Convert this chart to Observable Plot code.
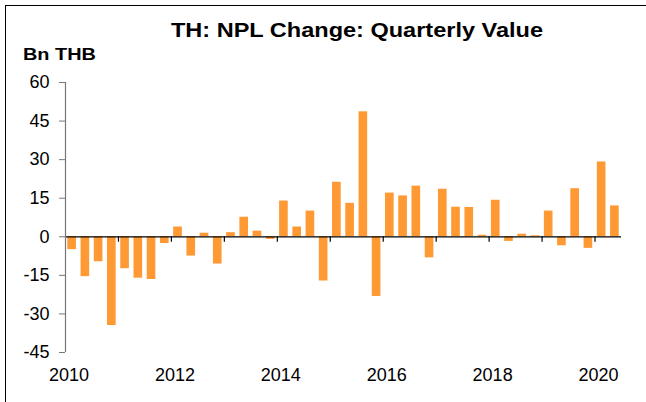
<!DOCTYPE html>
<html>
<head>
<meta charset="utf-8">
<script src="https://cdn.jsdelivr.net/npm/d3@7"></script>
<script src="https://cdn.jsdelivr.net/npm/@observablehq/plot@0.6"></script>
<style>
  html, body { margin: 0; padding: 0; background: #fff; }
  #wrap { position: relative; width: 646px; height: 402px; overflow: hidden; font-family: "Liberation Sans", Arial, sans-serif; }
  #border { position: absolute; left: 5px; top: 5px; right: -2px; bottom: -2px; border-left: 1.5px solid #000; border-top: 1.5px solid #000; }
  #title { position: absolute; left: 357px; top: 19px; font-size: 21px; font-weight: bold; line-height: 1; white-space: nowrap; transform: translateX(-50%) scaleX(1.12); color: #000; }
  #unit { position: absolute; left: 23px; top: 45.5px; font-size: 17px; font-weight: bold; line-height: 1; white-space: nowrap; transform-origin: left top; transform: scaleX(1.17); color: #000; }
  #chart { position: absolute; left: 0; top: 0; }
</style>
</head>
<body>
<div id="wrap">
  <div id="border"></div>
  <div id="chart"></div>
  <div id="title">TH: NPL Change: Quarterly Value</div>
  <div id="unit">Bn THB</div>
</div>
<script>
const quarters = [
  "2010Q1","2010Q2","2010Q3","2010Q4",
  "2011Q1","2011Q2","2011Q3","2011Q4",
  "2012Q1","2012Q2","2012Q3","2012Q4",
  "2013Q1","2013Q2","2013Q3","2013Q4",
  "2014Q1","2014Q2","2014Q3","2014Q4",
  "2015Q1","2015Q2","2015Q3","2015Q4",
  "2016Q1","2016Q2","2016Q3","2016Q4",
  "2017Q1","2017Q2","2017Q3","2017Q4",
  "2018Q1","2018Q2","2018Q3","2018Q4",
  "2019Q1","2019Q2","2019Q3","2019Q4",
  "2020Q1","2020Q2"
];
const nplChange = [
  -5.0, -15.5, -9.7, -34.5,
  -12.4, -16.1, -16.6, -2.6,
  3.8, -7.5, 1.4, -10.6,
  1.6, 7.6, 2.2, -1.0,
  13.9, 3.8, 10.0, -17.2,
  21.2, 13.0, 48.6, -23.2,
  17.0, 15.9, 19.7, -8.2,
  18.5, 11.5, 11.4, 0.6,
  14.2, -1.8, 1.0, 0.4,
  10.0, -3.5, 18.7, -4.5,
  29.1, 12.0
];
const yTicks = [-45, -30, -15, 0, 15, 30, 45, 60];
const yearTicks = [2011, 2012, 2013, 2014, 2015, 2016, 2017, 2018, 2019, 2020];
const yearLabels = [2010, 2012, 2014, 2016, 2018, 2020];

const data = quarters.map((q, i) => {
  const year = +q.slice(0, 4);
  const qn = +q.slice(5);
  const t = year + (qn - 1) / 4;
  return { quarter: q, t0: t, t1: t + 0.25, value: nplChange[i] };
});

const chart = Plot.plot({
  width: 646,
  height: 402,
  marginLeft: 65,
  marginRight: 25,
  marginTop: 82,
  marginBottom: 50,
  style: { fontFamily: "'Liberation Sans', Arial, sans-serif", fontSize: "18px", color: "#000", background: "transparent" },
  x: { type: "linear", domain: [2010, 2020.5] },
  y: { domain: [-45, 60] },
  marks: [
    Plot.rectY(data, { x1: "t0", x2: "t1", y: "value", fill: "#FF9933", insetLeft: 2.3, insetRight: 2.3 }),
    Plot.ruleY([0], { stroke: "#000", strokeWidth: 1.2 }),
    Plot.ruleX(yearTicks, { x: d => d, y1: 0, y2: -2.1, stroke: "#000", strokeWidth: 1.2 }),
    Plot.ruleX([2010], { stroke: "#777", strokeWidth: 1.2 }),
    Plot.axisY({ ticks: yTicks, tickSize: 6, tickPadding: 10, stroke: "#777", fill: "#000", fontSize: 18, label: null, tickFormat: d => String(d), ariaLabel: "y-axis tick label" }),
    Plot.axisX({ ticks: yearLabels, tickSize: 0, tickPadding: 16, dx: 3.5, fill: "#000", fontSize: 18, label: null, tickFormat: d => String(d), ariaLabel: "x-axis tick label" })
  ]
});
document.getElementById("chart").appendChild(chart);

// Reference text is rendered slightly wide; stretch the tick labels horizontally.
function stretch(selector, factor) {
  chart.querySelectorAll(selector).forEach(t => {
    const len = t.getComputedTextLength();
    t.setAttribute("textLength", (len * factor).toFixed(2));
    t.setAttribute("lengthAdjust", "spacingAndGlyphs");
  });
}
stretch('g[aria-label="y-axis tick label"] text', 1.15);
stretch('g[aria-label="x-axis tick label"] text', 1.1);
</script>
</body>
</html>
